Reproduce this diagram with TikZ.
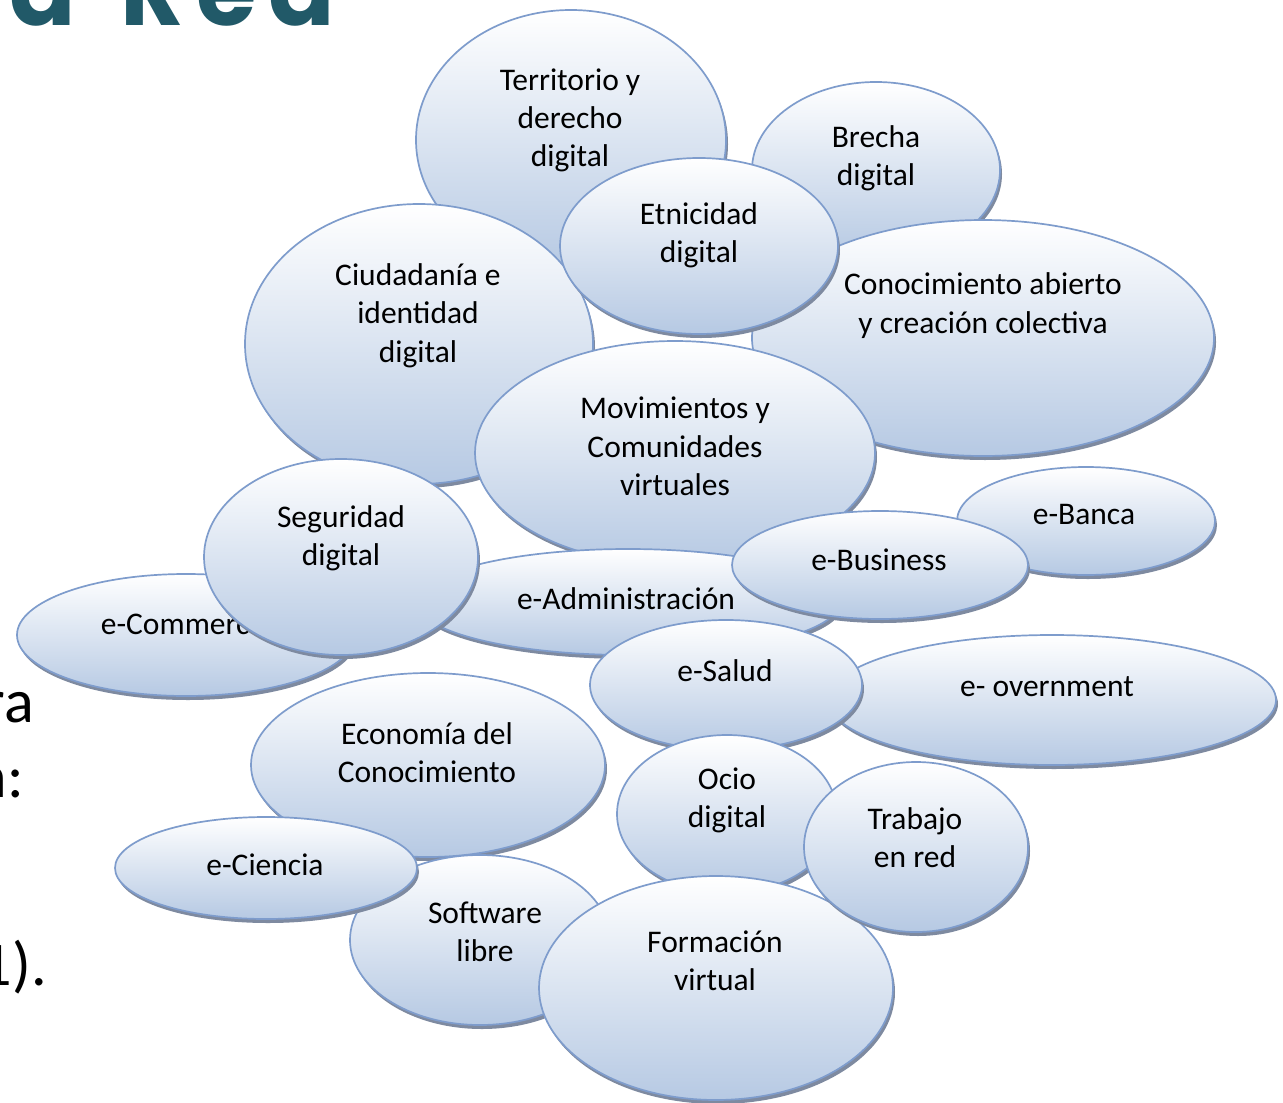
\documentclass[tikz,border=0pt]{standalone}
\usepackage{fontspec}
\setmainfont{Carlito}
\newfontfamily\titlefont{Poppins}[LetterSpace=12]
\usetikzlibrary{shapes.geometric,shadows}
\definecolor{bordc}{RGB}{126,156,204}
\definecolor{fillbot}{RGB}{182,201,227}
\definecolor{shadc}{RGB}{126,138,160}
\definecolor{titlec}{RGB}{33,89,104}
\tikzset{
  bubble/.style={ellipse, draw=bordc, line width=1.7pt, top color=white, bottom color=fillbot,
    inner sep=0pt, outer sep=0pt,
    drop shadow={shadow xshift=2pt, shadow yshift=-4pt, fill=shadc, opacity=1}},
  btext/.style={align=center, font=\fontsize{31.5}{38.3}\selectfont, text=black, inner sep=0pt, yshift=-2.5pt},
  sidetext/.style={anchor=base east, font=\fontsize{62}{70}\selectfont, text=black, inner sep=0pt}
}
\newcommand{\bub}[8]{%
  \node[bubble, minimum width=#4*2pt, minimum height=#5*2pt] (#1) at (#2,#3) {};
  \node[btext] (#1-t) at (#6,#7) {#8};
}
\begin{document}
\begin{tikzpicture}[x=1pt,y=-1pt]
\useasboundingbox (0,0) rectangle (1283,1103);
\clip (0,0) rectangle (1283,1103);
\fill[white] (0,0) rectangle (1283,1103);
% title and side text
\node[anchor=base east, font=\titlefont\bfseries\fontsize{98}{100}\selectfont, text=titlec, inner sep=0pt] (title) at (335,25) {a\hspace{12pt} Red};
\node[sidetext] (s1) at (34,722) {ra};
\node[sidetext] (s2) at (24,797) {n:};
\node[sidetext] (s3) at (47,985) {1).};
% bubbles, back to front
\bub{terr}{571}{140}{155}{130}{570}{118}{Territorio y\\derecho\\digital}
\bub{brecha}{876}{170}{124}{88}{876}{156}{Brecha\\digital}
\bub{conoc}{983}{338}{231}{118}{983}{303}{Conocimiento abierto\\y creación colectiva}
\bub{ciud}{419}{344}{174}{140}{418}{313}{Ciudadanía e\\identidad\\digital}
\bub{etni}{699}{246}{139}{88}{699}{233}{Etnicidad\\digital}
\bub{movi}{675}{453}{200}{112}{675}{444}{Movimientos y\\Comunidades\\virtuales}
\bub{banca}{1086}{521}{129}{54}{1084}{512}{e-Banca}
\bub{comm}{186}{635}{169}{61}{183}{622}{e-Commerce}
\bub{admin}{628}{602}{212}{53}{626}{596}{e-Administración}
\bub{segu}{341}{557}{137}{98}{341}{536}{Seguridad\\digital}
\bub{busi}{880}{565}{148}{54}{879}{557}{e-Business}
\bub{gov}{1052}{700}{224}{65}{1047}{684}{e- overnment}
\bub{salud}{726}{685}{136}{65}{725}{668}{e-Salud}
\bub{econ}{428}{765}{177}{92}{427}{750}{Economía del\\Conocimiento}
\bub{ocio}{727}{814}{110}{79}{727}{798}{Ocio\\digital}
\bub{soft}{480}{940}{130}{85}{485}{929}{Software\\libre}
\bub{form}{716}{988}{177}{112}{715}{958}{Formación\\virtual}
\bub{trab}{916}{847}{112}{85}{915}{835}{Trabajo\\en red}
\bub{cien}{266}{868}{151}{51}{265}{862}{e-Ciencia}
\end{tikzpicture}
\end{document}
